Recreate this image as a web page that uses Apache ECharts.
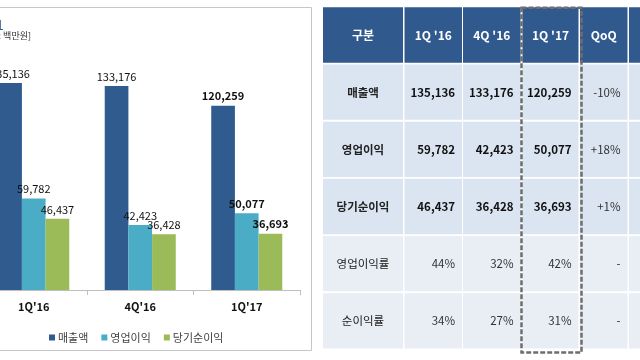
<!DOCTYPE html>
<html><head><meta charset="utf-8">
<script src="https://cdn.jsdelivr.net/npm/echarts@6/dist/echarts.min.js"></script>
<style>html,body{margin:0;padding:0;background:#fff}#c{width:640px;height:360px}</style>
</head><body><div id="c"></div>
<script>
// ---- data ----
const categories = ["1Q'16", "4Q'16", "1Q'17"];
const seriesNames = ['매출액', '영업이익', '당기순이익'];
const sales = [135136, 133176, 120259];
const opProfit = [59782, 42423, 50077];
const netProfit = [46437, 36428, 36693];
const tableHeader = ['구분', "1Q '16", "4Q '16", "1Q '17", 'QoQ', ''];
const rowLabels = ['매출액', '영업이익', '당기순이익', '영업이익률', '순이익률'];
const opMargin = ['44%', '32%', '42%'];
const netMargin = ['34%', '27%', '31%'];
const qoq = ['-10%', '+18%', '+1%', '-', '-'];
const titleTail = '1';
const unitText = '[단위: 백만원]';

// ---- layout / style ----
const FONT = '"Noto Sans CJK KR", "Noto Sans", sans-serif';
const COLORS = ['#2F5B8F', '#4BACC6', '#9BBB59'];
const HEADER_FILL = '#30598D';
const ROW_FILL = '#DBE5F1';
const ROW_FILL_LIGHT = '#E9EEF5';
const COL_EDGES = [[0, 80], [81.5, 139], [140, 197.5], [199.5, 255.5], [257, 304.5], [306, 345]];
const fmt = v => v.toLocaleString('en-US');

const tableRows = [
  tableHeader,
  [rowLabels[0], ...sales.map(fmt), qoq[0], ''],
  [rowLabels[1], ...opProfit.map(fmt), qoq[1], ''],
  [rowLabels[2], ...netProfit.map(fmt), qoq[2], ''],
  [rowLabels[3], ...opMargin, qoq[3], ''],
  [rowLabels[4], ...netMargin, qoq[4], '']
];
const cellData = [];
tableRows.forEach((row, r) => row.forEach((t, c) => cellData.push([c, r])));

function barData(arr) {
  return arr.map((v, i) => ({
    value: v,
    label: { fontWeight: i === 2 ? 'bold' : 'normal' }
  }));
}

function renderCell(params, api) {
  const c = api.value(0), r = api.value(1);
  const e = COL_EDGES[c];
  const p0 = api.coord([e[0], r]);
  const p1 = api.coord([e[1], r]);
  const bh = api.size([0, 1])[1];
  const top = p0[1] - bh / 2 + 0.3;
  const h = bh - 1.8;
  const fill = r === 0 ? HEADER_FILL : (r <= 3 ? ROW_FILL : ROW_FILL_LIGHT);
  const txt = tableRows[r][c];
  let tx, align, weight, color, size;
  if (r === 0) {
    tx = (p0[0] + p1[0]) / 2; align = 'center'; weight = 'bold'; color = '#fff'; size = 12;
  } else if (c === 0) {
    tx = (p0[0] + p1[0]) / 2; align = 'center'; weight = r <= 3 ? 'bold' : 'normal'; color = '#222'; size = 11.5;
  } else {
    tx = p1[0] - 7; align = 'right'; weight = (r <= 3 && c <= 3) ? 'bold' : 'normal';
    color = weight === 'bold' ? '#111' : '#333'; size = 11.5;
  }
  return {
    type: 'group',
    children: [
      { type: 'rect', shape: { x: p0[0], y: top, width: p1[0] - p0[0], height: h }, style: { fill: fill } },
      { type: 'text', x: tx, y: top + h / 2,
        style: { text: txt, align: align, verticalAlign: 'middle', fill: color,
                 fontSize: size, fontWeight: weight, fontFamily: FONT } }
    ]
  };
}

function renderBox(params, api) {
  const e = COL_EDGES[3];
  const bh = api.size([0, 1])[1];
  const a = api.coord([e[0], 0]);
  const b = api.coord([e[1], tableRows.length - 1]);
  const top = a[1] - bh / 2 + 0.8;
  const bottom = b[1] + bh / 2 + 2.5;
  return {
    type: 'rect',
    shape: { x: a[0] - 1, y: top, width: (b[0] + 3) - (a[0] - 1), height: bottom - top },
    style: { fill: 'none', stroke: '#6E6E6E', lineWidth: 2.5, lineDash: [5, 2] },
    z2: 10
  };
}

const chart = echarts.init(document.getElementById('c'), null, { renderer: 'canvas' });
chart.setOption({
  animation: false,
  textStyle: { fontFamily: FONT },
  graphic: [
    { type: 'rect', silent: true, shape: { x: -1, y: 7.5, width: 312.5, height: 343 },
      style: { fill: 'none', stroke: '#C6C6C6', lineWidth: 1 } },
    { type: 'text', silent: true, x: -4, y: 18,
      style: { text: titleTail, fontSize: 14, fill: '#2F5B8F', fontFamily: FONT } },
    { type: 'text', silent: true, x: 31, y: 31,
      style: { text: unitText, fontSize: 9, fill: '#333', align: 'right', fontFamily: FONT } }
  ],
  legend: {
    data: seriesNames, top: 327, left: 44, icon: 'rect', itemWidth: 6, itemHeight: 6, itemGap: 13,
    textStyle: { fontSize: 11, color: '#404040', fontFamily: FONT, padding: [0, 0, 0, -2] }
  },
  grid: [
    { left: -19.5, right: 340, top: 60.2, bottom: 70, outerBoundsMode: 'none', containLabel: false },
    { left: 323, right: 0, top: 7, bottom: 10, outerBoundsMode: 'none', containLabel: false }
  ],
  xAxis: [
    { type: 'category', data: categories, gridIndex: 0,
      axisLine: { lineStyle: { color: '#BFBFBF' } },
      axisTick: { show: true, length: 5, lineStyle: { color: '#BFBFBF' } },
      axisLabel: { fontSize: 11, fontWeight: 'bold', color: '#111', margin: 11, fontFamily: FONT } },
    { type: 'value', gridIndex: 1, min: 0, max: 317, show: false }
  ],
  yAxis: [
    { type: 'value', gridIndex: 0, min: 0, max: 150000, show: false, splitLine: { show: false } },
    { type: 'category', gridIndex: 1, data: tableRows.map((r, i) => i), inverse: true, show: false }
  ],
  series: [
    ...[sales, opProfit, netProfit].map((arr, k) => ({
      type: 'bar', name: seriesNames[k], data: barData(arr), xAxisIndex: 0, yAxisIndex: 0,
      barGap: '0%', barCategoryGap: '33.3%',
      itemStyle: { color: COLORS[k] },
      label: { show: true, position: 'top', distance: 4, fontSize: 11, color: '#111',
               fontFamily: FONT, formatter: p => fmt(p.value) }
    })),
    { type: 'custom', xAxisIndex: 1, yAxisIndex: 1, data: cellData, renderItem: renderCell, clip: false, silent: true },
    { type: 'custom', xAxisIndex: 1, yAxisIndex: 1, data: [[0, 0]], renderItem: renderBox, clip: false, silent: true, z: 5 }
  ]
});
</script>
</body></html>
